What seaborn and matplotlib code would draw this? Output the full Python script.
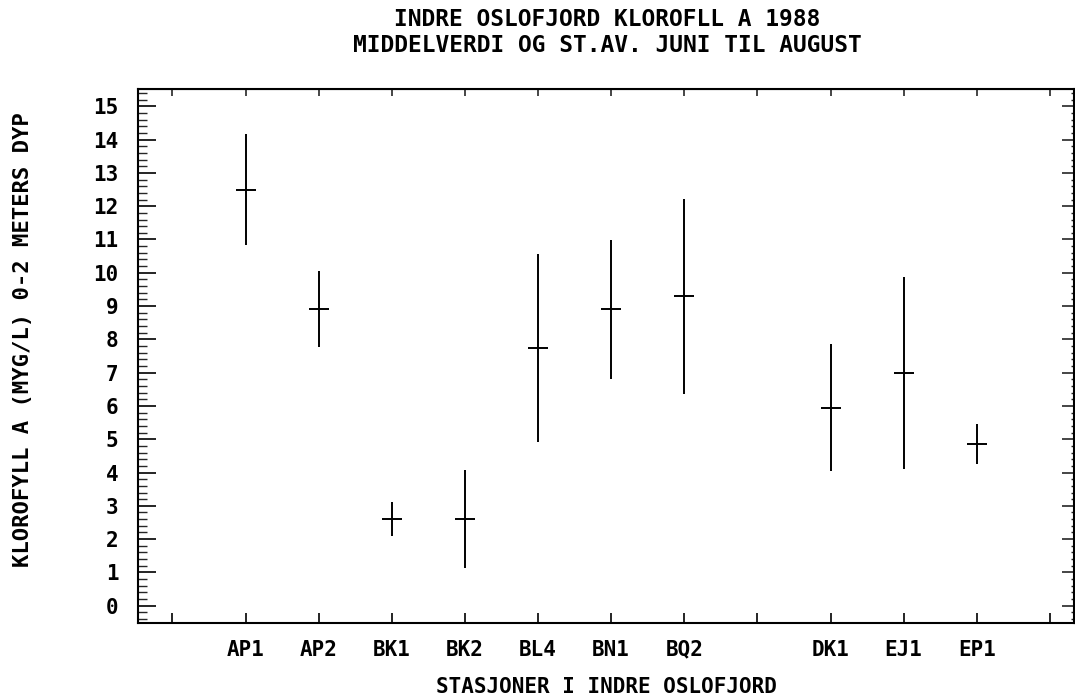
import seaborn as sns
import matplotlib.pyplot as plt
import pandas as pd
from matplotlib.ticker import MultipleLocator

# Klorofyll a 0-2 m, mean and st.dev. june-august 1988
tick_labels = ['', 'AP1', 'AP2', 'BK1', 'BK2', 'BL4', 'BN1', 'BQ2', '', 'DK1', 'EJ1', 'EP1', '']
stations = ['AP1', 'AP2', 'BK1', 'BK2', 'BL4', 'BN1', 'BQ2', 'DK1', 'EJ1', 'EP1']
mean = [12.5, 8.9, 2.6, 2.6, 7.75, 8.9, 9.3, 5.95, 7.0, 4.85]
stdev = [1.67, 1.14, 0.5, 1.48, 2.82, 2.08, 2.93, 1.9, 2.88, 0.6]
y_ticks = list(range(0, 16))

df = pd.DataFrame({'station': stations, 'mean': mean, 'sd': stdev})
df['x'] = [tick_labels.index(s) + 1 for s in df['station']]
df['lo'] = df['mean'] - df['sd']
df['hi'] = df['mean'] + df['sd']

sns.set_style('ticks')
plt.rcParams['font.family'] = ['DejaVu Sans Mono']
plt.rcParams['font.weight'] = 'bold'
plt.rcParams['axes.labelweight'] = 'bold'
plt.rcParams['text.color'] = 'black'
plt.rcParams['axes.labelcolor'] = 'black'

fig = plt.figure(figsize=(10.75, 6.95), dpi=100)
ax = fig.add_axes([0.1284, 0.1036, 0.8707, 0.7683])

# error bars + mean marker
ax.vlines(df['x'], df['lo'], df['hi'], color='black', linewidth=1.4)
sns.scatterplot(data=df, x='x', y='mean', marker='_', s=190, color='black',
                linewidth=1.4, ax=ax, legend=False)

ax.set_xlim(0.53, 13.33)
ax.set_ylim(-0.52, 15.52)
ax.set_xticks(range(1, len(tick_labels) + 1))
ax.set_xticklabels(tick_labels)
ax.set_yticks(y_ticks)
ax.yaxis.set_minor_locator(MultipleLocator(0.2))
ax.tick_params(axis='y', which='major', direction='in', length=13, width=1.2,
               pad=14, labelsize=15, colors='black')
ax.tick_params(axis='y', which='minor', direction='in', length=6.5, width=1)
ax.tick_params(axis='x', direction='in', length=7, width=1.2, pad=12,
               labelsize=15, colors='black')

# right and top ticks
sec_y = ax.secondary_yaxis('right')
sec_y.set_yticks(y_ticks, labels=[])
sec_y.yaxis.set_minor_locator(MultipleLocator(0.2))
sec_y.tick_params(which='major', direction='in', length=9, width=1.2)
sec_y.tick_params(which='minor', direction='in', length=2.5, width=1)
sec_x = ax.secondary_xaxis('top')
sec_x.set_xticks(range(1, len(tick_labels) + 1), labels=[])
sec_x.tick_params(direction='in', length=5, width=1.2)

for sp in ax.spines.values():
    sp.set_linewidth(1.5)
    sp.set_color('black')
sec_y.spines['right'].set_linewidth(0.8)

ax.set_xlabel('STASJONER I INDRE OSLOFJORD', fontsize=15)
ax.xaxis.set_label_coords(0.5, -0.12)
ax.xaxis.label.set_va('center')
ax.set_ylabel('KLOROFYLL A (MYG/L) 0-2 METERS DYP', fontsize=16)
ax.yaxis.set_label_coords(-0.123, 0.53)
ax.yaxis.label.set_va('center')
ax.yaxis.label.set_ha('center')

fig.text(0.5647, 1 - 19 / 695, 'INDRE OSLOFJORD KLOROFLL A 1988',
         ha='center', va='center', fontsize=16.5)
fig.text(0.5647, 1 - 45 / 695, 'MIDDELVERDI OG ST.AV. JUNI TIL AUGUST',
         ha='center', va='center', fontsize=16.5)

fig.savefig('out.png', dpi=100)
